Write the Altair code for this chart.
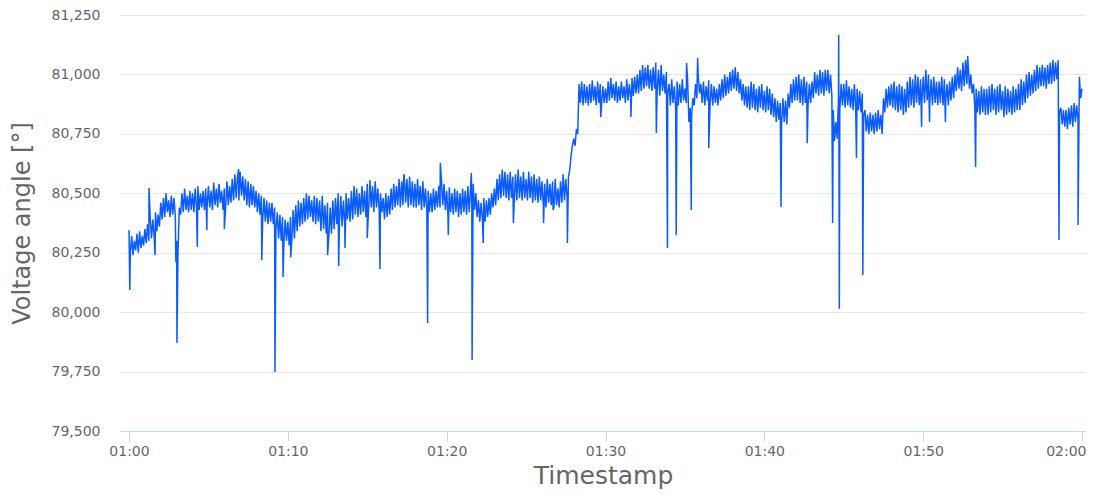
import altair as alt
import pandas as pd

# Samples every 5 s, one row per minute starting at 01:00
minute_values = [
    [80345, 80250, 80320, 80240, 80300, 80260, 80330, 80250, 80340, 80270, 80320, 80280],  # 01:00
    [80350, 80290, 80370, 80300, 80400, 80310, 80390, 80320, 80420, 80340, 80410, 80360],
    [80460, 80390, 80480, 80400, 80500, 80420, 80470, 80400, 80490, 80410, 80480, 80400],
    [80300, 80250, 80440, 80410, 80500, 80420, 80520, 80430, 80490, 80420, 80510, 80430],
    [80500, 80420, 80520, 80440, 80530, 80430, 80500, 80440, 80510, 80430, 80520, 80440],
    [80530, 80440, 80510, 80430, 80545, 80450, 80520, 80440, 80540, 80460, 80510, 80430],
    [80520, 80440, 80550, 80450, 80530, 80460, 80560, 80470, 80580, 80480, 80570, 80470],
    [80590, 80490, 80570, 80470, 80560, 80450, 80550, 80440, 80540, 80450, 80530, 80440],
    [80510, 80420, 80500, 80410, 80490, 80390, 80480, 80380, 80470, 80370, 80460, 80380],
    [80460, 80370, 80440, 80350, 80420, 80310, 80410, 80300, 80400, 80290, 80390, 80300],
    [80380, 80280, 80400, 80300, 80430, 80310, 80450, 80340, 80470, 80360, 80460, 80370],  # 01:10
    [80480, 80380, 80500, 80390, 80490, 80400, 80470, 80380, 80490, 80370, 80480, 80380],
    [80470, 80340, 80490, 80350, 80450, 80330, 80460, 80320, 80440, 80330, 80470, 80350],
    [80480, 80370, 80500, 80380, 80490, 80360, 80470, 80370, 80500, 80390, 80480, 80380],
    [80510, 80390, 80530, 80410, 80520, 80400, 80500, 80410, 80530, 80420, 80510, 80400],
    [80540, 80430, 80555, 80440, 80530, 80420, 80550, 80440, 80520, 80430, 80500, 80420],
    [80480, 80390, 80500, 80400, 80490, 80410, 80520, 80430, 80540, 80440, 80530, 80450],
    [80560, 80440, 80550, 80450, 80570, 80460, 80560, 80440, 80570, 80450, 80550, 80440],
    [80540, 80440, 80560, 80450, 80530, 80430, 80550, 80440, 80520, 80430, 80510, 80420],
    [80500, 80420, 80520, 80430, 80510, 80440, 80530, 80440, 80560, 80450, 80540, 80430],
    [80510, 80400, 80525, 80420, 80500, 80410, 80520, 80420, 80510, 80400, 80500, 80410],  # 01:20
    [80520, 80420, 80510, 80410, 80530, 80420, 80520, 80430, 80540, 80430, 80500, 80400],
    [80470, 80380, 80460, 80390, 80480, 80380, 80470, 80400, 80480, 80410, 80500, 80440],
    [80520, 80450, 80560, 80470, 80580, 80480, 80600, 80490, 80590, 80480, 80580, 80470],
    [80590, 80480, 80570, 80460, 80580, 80470, 80600, 80480, 80570, 80470, 80590, 80480],
    [80560, 80470, 80590, 80480, 80570, 80460, 80580, 80470, 80560, 80460, 80570, 80470],
    [80550, 80450, 80540, 80440, 80560, 80460, 80540, 80450, 80550, 80440, 80560, 80450],
    [80520, 80440, 80550, 80460, 80580, 80470, 80560, 80480, 80570, 80600, 80660, 80700],
    [80730, 80700, 80770, 80750, 80960, 80880, 80970, 80870, 80960, 80880, 80950, 80870],
    [80960, 80880, 80975, 80890, 80950, 80870, 80970, 80880, 80960, 80870, 80950, 80880],
    [80940, 80880, 80970, 80890, 80985, 80900, 80960, 80890, 80970, 80880, 80950, 80890],  # 01:30
    [80970, 80900, 80950, 80880, 80980, 80890, 80960, 80900, 80985, 80910, 80990, 80920],
    [81000, 80920, 81020, 80930, 81040, 80940, 81030, 80950, 81040, 80940, 81020, 80930],
    [81030, 80940, 81050, 80930, 81020, 80910, 81040, 80930, 81000, 80920, 81010, 80920],
    [80960, 80870, 80980, 80880, 80950, 80860, 80970, 80870, 80960, 80880, 80980, 80890],
    [80940, 80880, 80980, 80800, 80860, 80820, 80900, 80870, 80960, 80900, 81000, 80920],
    [80960, 80880, 80970, 80870, 80950, 80890, 80975, 80880, 80960, 80870, 80950, 80880],
    [80940, 80870, 80960, 80890, 80980, 80900, 81000, 80910, 80990, 80920, 81010, 80930],
    [81020, 80940, 81030, 80930, 81010, 80920, 80980, 80890, 80960, 80870, 80950, 80860],
    [80950, 80850, 80970, 80860, 80960, 80850, 80940, 80840, 80950, 80860, 80960, 80850],
    [80930, 80840, 80950, 80850, 80940, 80830, 80920, 80820, 80900, 80800, 80890, 80810],  # 01:40
    [80880, 80790, 80900, 80800, 80890, 80790, 80920, 80860, 80960, 80880, 80980, 80890],
    [80990, 80890, 81000, 80880, 80980, 80870, 80990, 80880, 80970, 80870, 80960, 80880],
    [80970, 80900, 81010, 80920, 81000, 80910, 81020, 80920, 81010, 80910, 81020, 80930],
    [81020, 80920, 81000, 80910, 80850, 80720, 80800, 80730, 80900, 80850, 80960, 80870],
    [80960, 80860, 80975, 80870, 80950, 80860, 80940, 80850, 80960, 80860, 80940, 80850],
    [80930, 80840, 80920, 80830, 80850, 80760, 80830, 80750, 80840, 80760, 80830, 80750],
    [80840, 80760, 80850, 80770, 80830, 80750, 80900, 80840, 80940, 80860, 80950, 80870],
    [80960, 80860, 80970, 80850, 80950, 80840, 80960, 80850, 80950, 80830, 80940, 80840],
    [80970, 80860, 80990, 80870, 80980, 80860, 81000, 80880, 80990, 80870, 80980, 80880],
    [80990, 80880, 81020, 80890, 81000, 80880, 80980, 80870, 80990, 80880, 80970, 80870],  # 01:50
    [80970, 80880, 80990, 80870, 80980, 80880, 80960, 80870, 80970, 80890, 80990, 80900],
    [81000, 80930, 81030, 80940, 81020, 80930, 81050, 80950, 81060, 80960, 81040, 80940],
    [81000, 80920, 80960, 80860, 80940, 80840, 80930, 80830, 80950, 80840, 80940, 80830],
    [80940, 80830, 80950, 80840, 80960, 80850, 80940, 80830, 80950, 80840, 80960, 80850],
    [80930, 80820, 80950, 80830, 80940, 80840, 80930, 80830, 80950, 80840, 80940, 80850],
    [80960, 80850, 80980, 80870, 80970, 80880, 81000, 80900, 81010, 80910, 81000, 80920],
    [81020, 80930, 81040, 80940, 81030, 80950, 81040, 80950, 81030, 80940, 81040, 80960],
    [81050, 80960, 81060, 80970, 81050, 80980, 81060, 80840, 80860, 80790, 80850, 80780],
    [80850, 80770, 80860, 80790, 80870, 80780, 80880, 80800, 80870, 80810, 80990, 80900],
]
end_value = 80940  # 02:00

# Isolated spikes (minutes after 01:00, value)
spike_minutes = [0.05, 1.26, 1.64, 2.95, 3.02, 4.3, 4.9, 6.0, 6.9, 8.36, 9.19, 9.7,
                 10.18, 12.5, 13.2, 13.6, 15.0, 15.8, 17.3, 18.8, 19.6, 20.1, 21.55,
                 21.6, 22.3, 24.2, 26.1, 26.7, 27.6, 29.7, 31.6, 33.2, 33.9, 34.45,
                 35.1, 35.4, 35.8, 36.5, 41.05, 42.7, 44.3, 44.68, 44.72, 45.8, 46.2,
                 49.9, 50.4, 51.4, 52.8, 53.3, 58.55, 59.75]
spike_values = [80093, 80522, 80240, 80210, 79870, 80274, 80345, 80350, 80602, 80219,
                79748, 80148, 80230, 80240, 80194, 80270, 80312, 80181, 80580, 79954,
                80627, 80325, 80585, 79799, 80291, 80375, 80375, 80430, 80291, 80821,
                80821, 80754, 80270, 80324, 81048, 80430, 81069, 80690, 80442, 80711,
                80375, 81166, 80014, 80648, 80156, 80780, 80800, 80800, 81077, 80611,
                80303, 80367]

x_ticks = [0, 10, 20, 30, 40, 50, 60]
y_ticks = [79500, 79750, 80000, 80250, 80500, 80750, 81000, 81250]

mins, vals = [], []
for m, row in enumerate(minute_values):
    for i, v in enumerate(row):
        mins.append(m + i / 12.0)
        vals.append(v)
mins.append(60.0)
vals.append(end_value)
mins += spike_minutes
vals += spike_values

df = pd.DataFrame({"m": mins, "v": vals}).sort_values("m", kind="stable").reset_index(drop=True)
df["o"] = range(len(df))

FONT = "DejaVu Sans"
label_expr = ("'0' + (1 + floor(datum.value / 60)) + ':' + "
              "(datum.value % 60 == 0 ? '00' : datum.value % 60)")

chart = alt.Chart(df).mark_line(color="#0a5cff", strokeWidth=1.5).encode(
    x=alt.X(
        "m:Q",
        scale=alt.Scale(domain=[-0.567, 60.25], nice=False, zero=False),
        axis=alt.Axis(
            title="Timestamp",
            values=x_ticks,
            labelExpr=label_expr,
            grid=False,
            domainColor="#ccd6eb",
            tickColor="#ccd6eb",
            tickSize=10,
            labelFlush=False,
            labelAlign={"expr": "datum.value == 60 ? 'right' : 'center'"},
            labelOffset={"expr": "datum.value == 60 ? 4 : 0"},
            labelPadding=3,
            labelFont=FONT,
            labelFontSize=14,
            labelColor="#666666",
            titleFont=FONT,
            titleFontSize=25,
            titleFontWeight="normal",
            titleColor="#666666",
            titlePadding=5,
        ),
    ),
    y=alt.Y(
        "v:Q",
        scale=alt.Scale(domain=[79500, 81250], nice=False, zero=False),
        axis=alt.Axis(
            title="Voltage angle [°]",
            values=y_ticks,
            format=",d",
            grid=True,
            gridColor="#e6e6e6",
            domain=False,
            ticks=False,
            labelPadding=20,
            labelFont=FONT,
            labelFontSize=14,
            labelColor="#666666",
            titleFont=FONT,
            titleFontSize=24,
            titleFontWeight="normal",
            titleColor="#666666",
            titleAngle=270,
            titleAlign="center",
            titleBaseline="middle",
            titleX=-98,
            titleY=208,
        ),
    ),
    order="o:Q",
).properties(
    width=966,
    height=416,
    autosize=alt.AutoSizeParams(type="none"),
    padding={"left": 112, "top": 7, "right": 0, "bottom": 58},
).configure_view(stroke=None)

chart.save("out.html", embed_options={"renderer": "svg", "actions": False})
